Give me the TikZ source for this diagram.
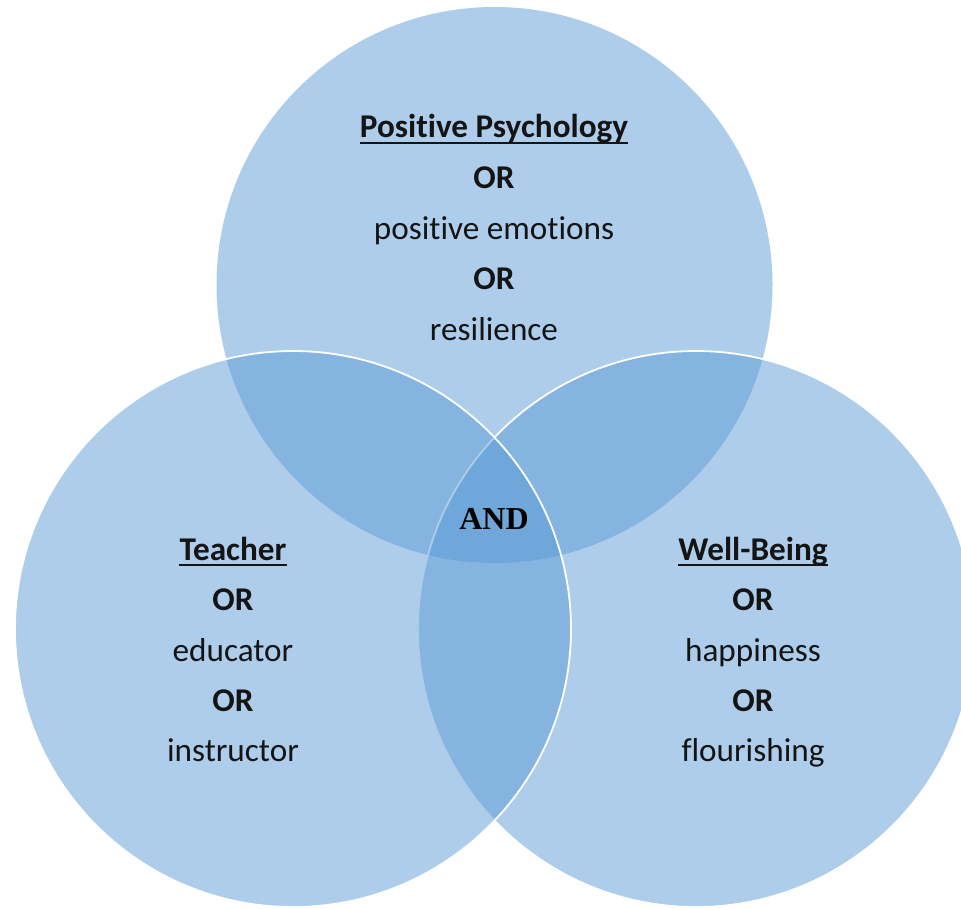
\documentclass[tikz,border=0pt]{standalone}
\usepackage{fontspec}
\setmainfont{Carlito}[Ligatures={NoCommon}]
\newfontfamily\andfont{Liberation Serif}
\definecolor{vennblue}{RGB}{91,155,213}
\definecolor{inktext}{RGB}{20,20,20}
\begin{document}
\begin{tikzpicture}[x=1pt,y=-1pt,
  venn/.style={fill=vennblue, fill opacity=0.5},
  vennline/.style={draw=white, line width=1.8pt},
  lbl/.style={anchor=base, inner sep=0pt, text=inktext, font=\fontsize{33.2}{38}\selectfont},
  hd/.style={lbl, font=\fontsize{33.2}{38}\selectfont\bfseries},
  orw/.style={lbl, font=\fontsize{33.2}{38}\selectfont\bfseries},
  andlbl/.style={anchor=base, inner sep=0pt, text=black, font=\fontsize{32}{38}\andfont\bfseries},
  uline/.style={draw=inktext, line width=2pt}
]
\useasboundingbox (0,0) rectangle (961,908);
% circles
\path[venn] (494.5,285) circle[radius=278];
\path[venn, vennline] (696,629) circle[radius=278];
\path[venn, vennline] (293,629) circle[radius=278];
% top texts
\node[hd]  (pp)  at (494,137.5) {Positive Psychology};
\node[orw] (or1) at (494,188) {OR};
\node[lbl] (pe)  at (494,239) {positive emotions};
\node[orw] (or2) at (494,289.5) {OR};
\node[lbl] (res) at (494,340) {resilience};
% left texts
\node[hd]  (te)  at (233,560) {Teacher};
\node[orw] (or3) at (233,610.5) {OR};
\node[lbl] (ed)  at (233,661) {educator};
\node[orw] (or4) at (233,711) {OR};
\node[lbl] (ins) at (233,761) {instructor};
% right texts
\node[hd]  (wb)  at (753,560) {Well-Being};
\node[orw] (or5) at (753,610.5) {OR};
\node[lbl] (hap) at (753,661) {happiness};
\node[orw] (or6) at (753,711) {OR};
\node[lbl] (fl)  at (753,761) {flourishing};
% center
\node[andlbl] (and) at (494,529) {AND};
% underlines
\draw[uline] ([yshift=-5pt]pp.base west) -- ([yshift=-5pt]pp.base east);
\draw[uline] ([yshift=-5pt]te.base west) -- ([yshift=-5pt]te.base east);
\draw[uline] ([yshift=-5pt]wb.base west) -- ([yshift=-5pt]wb.base east);
\end{tikzpicture}
\end{document}
